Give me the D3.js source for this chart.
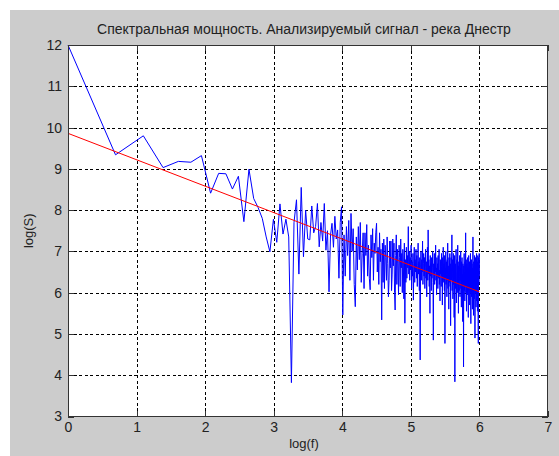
<!DOCTYPE html>
<html>
<head>
<meta charset="utf-8">
<script src="https://cdn.jsdelivr.net/npm/d3@7/dist/d3.min.js"></script>
<style>
  html, body { margin: 0; padding: 0; background: #ffffff; }
  svg { display: block; }
  text { font-family: "Liberation Sans", Arial, sans-serif; }
</style>
</head>
<body>
<svg id="chart" width="559" height="456"></svg>
<script>
// Spectral power of the Dniester river series, log-log coordinates.
// Frequency index f = 1..N, spectrum value log(S) per index.
const logS = [
  12.0, 9.34, 9.80, 9.03, 9.18, 9.16, 9.32, 8.41, 8.89, 8.88,
  8.51, 8.82, 7.72, 8.99, 8.28, 8.06, 7.80, 7.35, 6.99, 7.78,
  7.22, 8.15, 7.42, 7.78, 7.35, 3.82, 7.70, 8.25, 6.45, 8.55,
  6.87, 8.00, 7.30, 7.28, 8.10, 7.45, 7.60, 8.16, 7.11, 7.70,
  7.25, 8.16, 7.03, 7.50, 6.02, 7.40, 7.68, 7.10, 7.85, 7.30,
  7.52, 6.35, 7.70, 8.08, 5.46, 7.40, 6.40, 7.60, 6.90, 7.75,
  6.30, 7.92, 7.00, 7.55, 6.20, 5.66, 7.35, 6.55, 7.60, 6.80,
  7.70, 6.25, 6.95, 7.45, 6.10, 7.45, 6.90, 7.65, 6.40, 7.15,
  6.35, 6.07, 7.40, 6.85, 7.55, 6.30, 7.20, 6.95, 7.45, 7.68,
  6.50, 7.10, 6.20, 7.45, 6.75, 7.05, 5.34, 7.20, 6.25, 7.30,
  6.10, 7.15, 6.85, 6.30, 7.35, 6.70, 5.90, 6.30, 7.25, 6.60,
  7.25, 6.05, 6.45, 7.30, 6.65, 7.20, 6.00, 5.58, 6.90, 7.40,
  6.20, 7.05, 6.70, 5.95, 7.15, 6.85, 6.15, 7.30, 6.60, 6.95,
  6.00, 7.05, 6.75, 5.85, 7.20, 5.26, 6.80, 6.25, 7.10, 6.35,
  6.90, 6.60, 7.60, 6.45, 7.00, 6.30, 6.85, 6.55, 7.15, 6.10,
  6.75, 6.40, 6.95, 5.82, 6.70, 7.10, 6.25, 6.80, 6.50, 7.05,
  6.35, 6.90, 6.15, 6.65, 7.20, 6.45, 6.75, 6.05, 6.85, 4.37,
  6.60, 7.00, 6.30, 6.80, 6.50, 7.25, 6.20, 6.70, 6.95, 6.40,
  6.85, 6.10, 6.60, 7.05, 6.35, 6.75, 5.90, 6.55, 7.10, 6.30,
  7.52, 6.45, 6.80, 6.15, 6.65, 5.50, 6.90, 6.40, 6.70, 6.05,
  6.85, 6.35, 6.60, 7.00, 6.25, 4.85, 6.70, 6.45, 6.95, 6.20,
  6.75, 6.50, 7.15, 6.30, 6.60, 5.95, 6.85, 6.40, 6.70, 6.10,
  6.90, 6.35, 6.65, 7.05, 6.20, 6.55, 5.80, 6.80, 6.45, 6.75,
  6.15, 6.95, 6.40, 6.60, 5.70, 6.85, 6.30, 7.10, 6.50, 6.25,
  6.70, 6.05, 6.90, 4.77, 6.60, 6.35, 7.00, 6.20, 6.75, 6.45,
  5.90, 6.80, 6.30, 7.20, 6.10, 6.65, 6.40, 5.60, 6.85, 6.25,
  6.55, 6.95, 6.15, 6.70, 5.20, 6.45, 6.85, 6.30, 6.60, 7.40,
  6.05, 6.50, 6.80, 5.85, 6.40, 6.95, 6.20, 6.65, 5.40, 6.55,
  6.90, 3.84, 6.35, 6.70, 6.10, 6.60, 7.05, 6.25, 5.75, 6.50,
  6.80, 6.00, 6.45, 7.15, 6.20, 6.65, 5.50, 6.35, 6.75, 6.05,
  6.55, 6.90, 6.15, 5.90, 6.60, 6.30, 7.00, 6.10, 6.50, 5.65,
  6.75, 6.25, 6.85, 6.00, 6.45, 5.30, 6.70, 6.20, 6.55, 4.20,
  6.65, 6.35, 6.95, 6.05, 6.50, 5.80, 6.75, 6.15, 6.60, 7.45,
  6.00, 6.45, 6.80, 5.55, 6.30, 6.70, 6.10, 6.55, 5.95, 6.85,
  6.25, 6.60, 5.40, 6.40, 6.90, 6.05, 6.50, 6.20, 6.75, 5.70,
  6.35, 6.65, 6.00, 6.95, 6.15, 5.25, 6.55, 6.30, 6.80, 5.90,
  6.45, 6.70, 6.10, 5.60, 6.60, 6.25, 7.35, 6.05, 6.50, 5.45,
  6.75, 6.20, 6.55, 5.85, 6.40, 6.90, 6.15, 4.90, 6.60, 6.30,
  6.85, 6.00, 6.45, 5.65, 6.70, 6.20, 6.95, 5.80, 6.50, 6.35,
  6.75, 5.55, 6.40, 6.90, 6.10, 5.30, 4.77, 6.55, 6.85, 6.20,
  6.60, 6.95, 6.40
];

// Fitted straight line (log(f) endpoints and log(S) values)
const fitLogF = [0, 6];
const fitLogS = [9.86, 6.02];

const xTicks = [0, 1, 2, 3, 4, 5, 6, 7];
const yTicks = [3, 4, 5, 6, 7, 8, 9, 10, 11, 12];

const titleText = "Спектральная мощность. Анализируемый сигнал - река Днестр";
const xLabel = "log(f)";
const yLabel = "log(S)";

const W = 559, H = 456;
const plot = { left: 68, right: 548, top: 45, bottom: 416.5 };

const svg = d3.select("#chart");

// figure background
svg.append("rect")
  .attr("x", 10).attr("y", 10)
  .attr("width", W - 10).attr("height", H - 10)
  .attr("fill", "#cccccc");

const x = d3.scaleLinear().domain([0, 7]).range([plot.left, plot.right]);
const y = d3.scaleLinear().domain([3, 12]).range([plot.bottom, plot.top]);

// axes area
svg.append("rect")
  .attr("x", plot.left).attr("y", plot.top)
  .attr("width", plot.right - plot.left).attr("height", plot.bottom - plot.top)
  .attr("fill", "#ffffff");

// dashed grid
const grid = svg.append("g").attr("stroke", "#000").attr("stroke-width", 1)
  .attr("stroke-dasharray", "3,2.5").attr("shape-rendering", "crispEdges");
grid.selectAll("line.gx").data(xTicks.slice(1, -1)).join("line")
  .attr("x1", d => Math.round(x(d)) + 0.5).attr("x2", d => Math.round(x(d)) + 0.5)
  .attr("y1", plot.top).attr("y2", plot.bottom);
grid.selectAll("line.gy").data(yTicks.slice(1, -1)).join("line")
  .attr("y1", d => Math.round(y(d)) + 0.5).attr("y2", d => Math.round(y(d)) + 0.5)
  .attr("x1", plot.left).attr("x2", plot.right);

// spectrum curve
const line = d3.line()
  .x((d, i) => x(Math.log(i + 1)))
  .y(d => y(d));
svg.append("path")
  .datum(logS)
  .attr("d", line)
  .attr("fill", "none")
  .attr("stroke", "#0000ff")
  .attr("stroke-width", 1)
  .attr("stroke-linejoin", "round");

// fitted line
svg.append("path")
  .datum(fitLogF.map((f, i) => [f, fitLogS[i]]))
  .attr("d", d3.line().x(d => x(d[0])).y(d => y(d[1])))
  .attr("fill", "none")
  .attr("stroke", "#ff0000")
  .attr("stroke-width", 1);

// axes with inward ticks
const tickLen = 6;
const axB = svg.append("g").attr("transform", `translate(0,${plot.bottom})`)
  .call(d3.axisBottom(x).tickValues(xTicks).tickSize(-tickLen).tickPadding(6).tickFormat(d3.format("d")));
const axT = svg.append("g").attr("transform", `translate(0,${plot.top})`)
  .call(d3.axisTop(x).tickValues(xTicks).tickSize(-tickLen).tickFormat(""));
const axL = svg.append("g").attr("transform", `translate(${plot.left},0)`)
  .call(d3.axisLeft(y).tickValues(yTicks).tickSize(-tickLen).tickPadding(6).tickFormat(d3.format("d")));
const axR = svg.append("g").attr("transform", `translate(${plot.right},0)`)
  .call(d3.axisRight(y).tickValues(yTicks).tickSize(-tickLen).tickFormat(""));

[axB, axT, axL, axR].forEach(g => {
  g.select(".domain").remove();
  g.selectAll(".tick line").attr("stroke", "#333").attr("shape-rendering", "crispEdges");
  g.selectAll(".tick text").attr("fill", "#222").style("font-size", "14px")
    .style("font-family", "'Liberation Sans', Arial, sans-serif");
});

// axes frame
svg.append("rect")
  .attr("x", plot.left + 0.5).attr("y", plot.top + 0.5)
  .attr("width", plot.right - plot.left - 1).attr("height", plot.bottom - plot.top - 1)
  .attr("fill", "none").attr("stroke", "#333").attr("stroke-width", 1)
  .attr("shape-rendering", "crispEdges");

// title and axis labels
svg.append("text")
  .attr("x", 304).attr("y", 34)
  .attr("text-anchor", "middle").attr("fill", "#222").style("font-size", "14px")
  .text(titleText);
svg.append("text")
  .attr("x", 304).attr("y", 448)
  .attr("text-anchor", "middle").attr("fill", "#222").style("font-size", "13px")
  .text(xLabel);
svg.append("text")
  .attr("transform", `translate(33,${(plot.top + plot.bottom) / 2}) rotate(-90)`)
  .attr("text-anchor", "middle").attr("fill", "#222").style("font-size", "13px")
  .text(yLabel);
</script>
</body>
</html>
